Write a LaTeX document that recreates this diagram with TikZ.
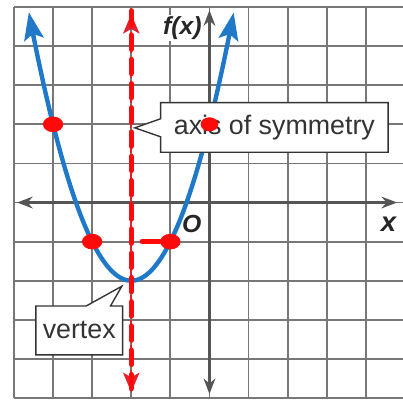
\documentclass[tikz,border=0pt]{standalone}
\usepackage{fontspec}
\setmainfont{Liberation Sans}
\usetikzlibrary{arrows.meta,shapes.callouts,shapes.geometric,positioning}
\definecolor{gridgray}{HTML}{777777}
\definecolor{axisgray}{HTML}{555555}
\definecolor{curveblue}{HTML}{1F78C8}
\definecolor{markred}{HTML}{FF0A0A}
\definecolor{printred}{HTML}{E8202E}
\definecolor{textgray}{HTML}{333333}
\tikzset{
  gridline/.style={gridgray, line width=1.3pt},
  axisline/.style={axisgray, line width=1.6pt, {Stealth[length=0.4cm,width=0.3cm]}-{Stealth[length=0.4cm,width=0.3cm]}},
  curve/.style={curveblue, line width=3.2pt, line cap=round, {Stealth[length=0.7cm,width=0.5cm,inset=0.14cm]}-{Stealth[length=0.7cm,width=0.5cm,inset=0.14cm]}},
  printaxis/.style={printred, line width=1.2pt, dash pattern=on 0.2cm off 0.12cm, {Stealth[length=0.5cm,width=0.42cm,inset=0.12cm]}-{Stealth[length=0.5cm,width=0.42cm,inset=0.12cm]}},
  handmark/.style={markred, line width=4pt, line cap=round},
  handdash/.style={handmark, dash pattern=on 0.36cm off 0.26cm},
  dot/.style={ellipse, fill=markred, minimum width=0.52cm, minimum height=0.4cm, inner sep=0pt},
  callbox/.style={rectangle callout, draw=textgray, fill=white, line width=1pt, text=textgray, font=\fontsize{19.5}{19.5}\selectfont},
  lbl/.style={text=black!85, font=\fontsize{18}{18}\selectfont\bfseries\itshape, inner sep=1pt}
}
\begin{document}
\begin{tikzpicture}
    \useasboundingbox (-5.357,-5.05) rectangle (4.95,5.18);
    % Gitter
    \draw[gridline] (-5,-5) grid (5,5);
    % Achsen
    \coordinate (xleft) at (-4.92,0);
    \coordinate (xright) at (4.8,0);
    \coordinate (ybottom) at (0,-4.9);
    \coordinate (ytop) at (0,4.92);
    \draw[axisline] (xleft) -- (xright);
    \draw[axisline] (ybottom) -- (ytop);
    % Parabel f(x) = (x+2)^2 - 2
    \draw[curve] plot[domain=-4.62:0.62, samples=80, smooth] (\x, {(\x+2)^2-2});
    % Symmetrieachse (gedruckt)
    \coordinate (symtop) at (-2,4.82);
    \coordinate (symbottom) at (-2,-4.85);
    \draw[printaxis] (symbottom) -- (symtop);
    % Beschriftungen mit Zeiger
    \node[callbox, minimum width=5.82cm, minimum height=1.27cm, callout pointer width=0.46cm,
      callout absolute pointer={(-1.91,1.91)}] (symbox) at (1.66,1.92) {axis of symmetry};
    \node[callbox, minimum width=2.22cm, minimum height=1.25cm, callout pointer width=0.62cm,
      callout absolute pointer={(-2.24,-2.14)}] (vertexbox) at (-3.33,-3.27) {vertex};
    % Symmetrieachse (von Hand)
    \coordinate (handtop) at (-2,4.9);
    \coordinate (handbottom) at (-2,-4.95);
    \draw[handdash] (handtop) -- (handbottom);
    % Punkte
    \node[dot] (pa) at (-4,2) {};
    \node[dot] (pb) at (-3,-1) {};
    \node[dot] (pc) at (-1,-1) {};
    \node[dot, minimum width=0.45cm, minimum height=0.36cm] (pd) at (0,2) {};
    \coordinate (segstart) at (-1.72,-1);
    \draw[handmark] (segstart) -- (pc);
    % Achsenbeschriftung
    \node[lbl, fill=white] (fx) at (-0.69,4.46) {f(x)};
    \node[lbl, font=\fontsize{20}{20}\selectfont\bfseries\itshape] (xlbl) at (4.58,-0.56) {x};
    \node[lbl] (olbl) at (-0.45,-0.56) {O};
\end{tikzpicture}
\end{document}
